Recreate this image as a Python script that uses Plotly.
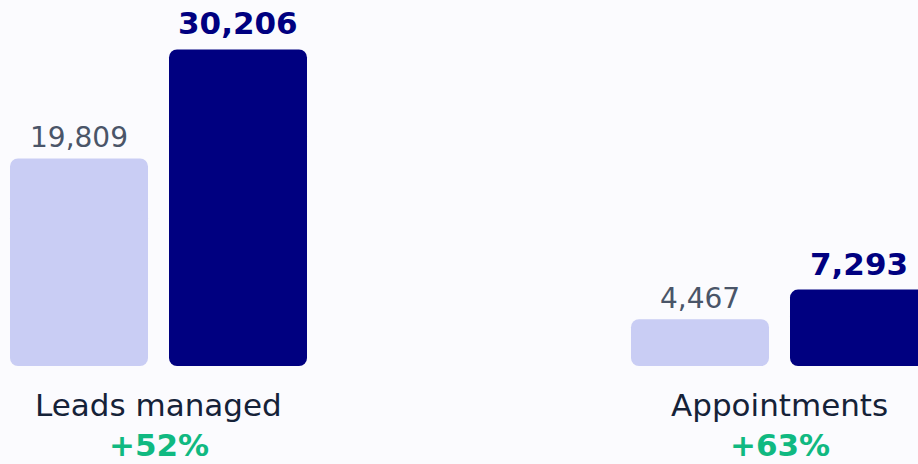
import plotly.graph_objects as go

# ---- data ----
categories = ["Leads managed", "Appointments"]
before = [19809, 4467]
after = [30206, 7293]
changes = ["+52%", "+63%"]

# ---- styling ----
LIGHT = "#c9cdf4"
DARK = "#000080"
LABEL_GREY = "#4a5568"
CAT_COLOR = "#152238"
GREEN = "#10b981"
BG = "#fbfbfe"
FONT = "DejaVu Sans"

GROUP_PX = 621.0          # distance between category centres in px
BAR_W = 138.0 / GROUP_PX  # bar width in category units
OFF_BEFORE = -148.5 / GROUP_PX
OFF_AFTER = 10.5 / GROUP_PX
RADIUS = 8

fig = go.Figure()


def add_rounded(values, color, offset):
    # upper part (rounded top end)
    fig.add_trace(go.Bar(
        x=categories, y=[v * 0.75 for v in values], base=[v * 0.25 for v in values],
        width=BAR_W, offset=offset, marker=dict(color=color, cornerradius=RADIUS, line=dict(width=0)),
        showlegend=False, hoverinfo="skip"))
    # lower part (rounded bottom end)
    fig.add_trace(go.Bar(
        x=categories, y=[-v * 0.75 for v in values], base=[v * 0.75 for v in values],
        width=BAR_W, offset=offset, marker=dict(color=color, cornerradius=RADIUS, line=dict(width=0)),
        showlegend=False, hoverinfo="skip"))


add_rounded(before, LIGHT, OFF_BEFORE)
add_rounded(after, DARK, OFF_AFTER)

annotations = []
for i, cat in enumerate(categories):
    annotations.append(dict(
        x=i + OFF_BEFORE + BAR_W / 2, y=before[i], xref="x", yref="y",
        text=f"{before[i]:,}", showarrow=False, yanchor="middle", yshift=21,
        font=dict(family=FONT, size=28, color=LABEL_GREY)))
    annotations.append(dict(
        x=i + OFF_AFTER + BAR_W / 2, y=after[i], xref="x", yref="y",
        text=f"<b>{after[i]:,}</b>", showarrow=False, yanchor="middle", yshift=26,
        font=dict(family=FONT, size=31, color=DARK)))
    annotations.append(dict(
        x=i, y=0, xref="x", yref="paper", text=cat, showarrow=False,
        yanchor="middle", yshift=-39,
        font=dict(family=FONT, size=31, color=CAT_COLOR)))
    annotations.append(dict(
        x=i, y=0, xref="x", yref="paper", text=f"<b>{changes[i]}</b>", showarrow=False,
        yanchor="middle", yshift=-79,
        font=dict(family=FONT, size=31, color=GREEN)))

x0 = -158.5 / GROUP_PX
x1 = x0 + 918.0 / GROUP_PX

fig.update_layout(
    width=918, height=464,
    margin=dict(l=0, r=0, t=0, b=98, pad=0),
    paper_bgcolor=BG, plot_bgcolor=BG,
    barmode="overlay",
    showlegend=False,
    hovermode=False,
    xaxis=dict(type="category", range=[x0, x1], visible=False, fixedrange=True),
    yaxis=dict(range=[0, 34924], visible=False, fixedrange=True),
    annotations=annotations,
    font=dict(family=FONT),
)

fig.write_html(
    "out.html",
    config={"displayModeBar": False, "staticPlot": True},
    post_script="document.body.style.margin='0';document.body.style.overflow='hidden';",
)
